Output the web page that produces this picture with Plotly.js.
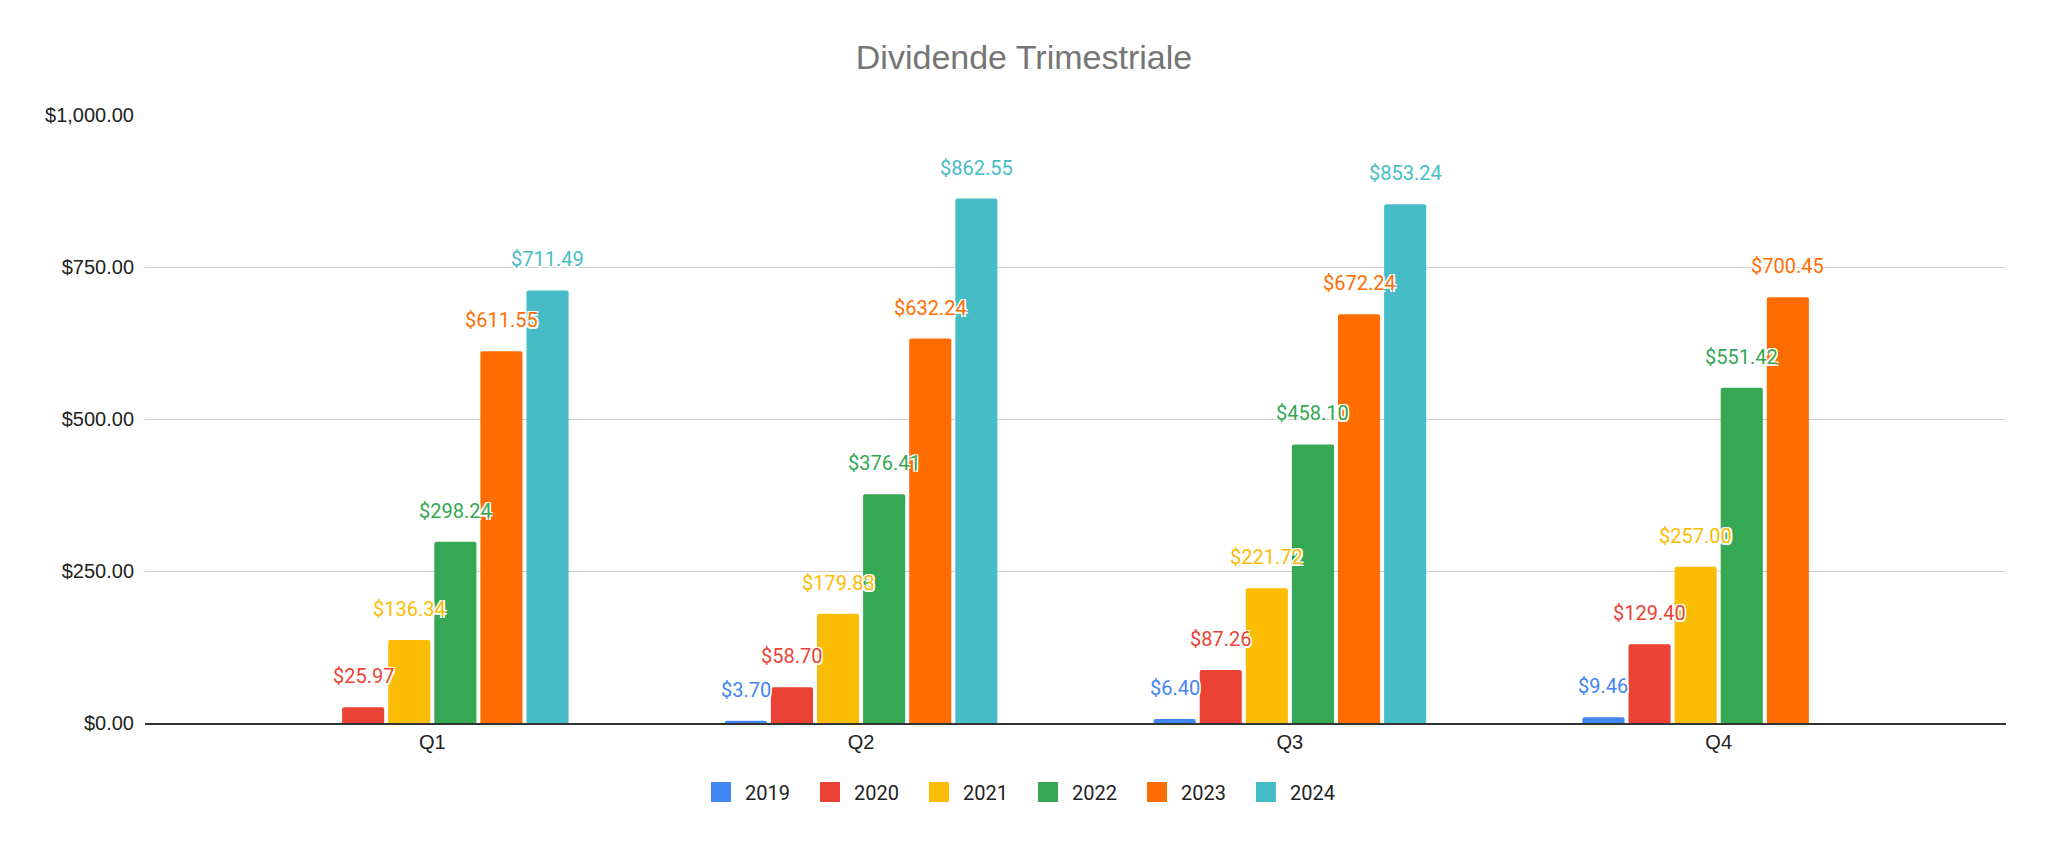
<!DOCTYPE html>
<html>
<head>
<meta charset="utf-8">
<script src="https://cdn.plot.ly/plotly-3.0.1.min.js"></script>
<style>
    html, body { margin: 0; padding: 0; background: #ffffff; }
    #dividendChart { width: 2048px; height: 845px; }
</style>
</head>
<body>
<div id="dividendChart"></div>
<script>
"use strict";

var quarters = ["Q1", "Q2", "Q3", "Q4"];
var years = ["2019", "2020", "2021", "2022", "2023", "2024"];

var values2019 = [null, 3.70, 6.40, 9.46];
var values2020 = [25.97, 58.70, 87.26, 129.40];
var values2021 = [136.34, 179.83, 221.72, 257.00];
var values2022 = [298.24, 376.41, 458.10, 551.42];
var values2023 = [611.55, 632.24, 672.24, 700.45];
var values2024 = [711.49, 862.55, 853.24, null];

var yTickValues = [0, 250, 500, 750, 1000];

var allValues = [values2019, values2020, values2021, values2022, values2023, values2024];
var colors = ["#4285F4", "#EA4335", "#FBBC04", "#34A853", "#FF6D01", "#46BDC6"];

var barGap = 0.355;
var barGroupGap = 0.087;

function formatDollar(v) {
    return "$" + v.toFixed(2).replace(/\B(?=(\d{3})+(?!\d))/g, ",");
}

/**
 * Draws the grouped bars, one trace per year, with the value labels floating above them
 */
function drawDividends() {
    var data = [];
    var legendEntries = [];
    var annotations = [];
    var slot = (1 - barGap) / years.length;   // width of one bar slot inside a quarter

    years.forEach(function(year, i) {
        data.push({
            type: "bar",
            name: year,
            x: quarters,
            y: allValues[i],
            marker: {color: colors[i], cornerradius: 2},
            showlegend: false,
            hoverinfo: "none"
        });

        // empty scatter traces only to get bigger square swatches in the legend
        legendEntries.push({
            type: "scatter",
            mode: "markers",
            name: year,
            x: [quarters[0]],
            y: [null],
            marker: {symbol: "square", size: 16, color: colors[i], line: {color: colors[i], width: 4}},
            hoverinfo: "none"
        });

        var offset = -(1 - barGap) / 2 + slot * (i + 0.5);
        allValues[i].forEach(function(v, q) {
            if (v === null) {
                return;
            }
            annotations.push({
                x: q + offset,
                y: v,
                xref: "x",
                yref: "y",
                text: formatDollar(v),
                showarrow: false,
                yanchor: "middle",
                yshift: 31,
                font: {
                    family: "Roboto",
                    size: 20,
                    color: colors[i],
                    shadow: "-1.5px -1.5px 0 #fff, 1.5px -1.5px 0 #fff, -1.5px 1.5px 0 #fff, 1.5px 1.5px 0 #fff"
                }
            });
        });
    });

    var layout = {
        width: 2048,
        height: 845,
        paper_bgcolor: "#ffffff",
        plot_bgcolor: "#ffffff",
        margin: {l: 145, r: 42, t: 115, b: 122},
        barmode: "group",
        bargap: barGap,
        bargroupgap: barGroupGap,
        title: {
            text: "Dividende Trimestriale",
            font: {family: "Liberation Sans", size: 34, color: "#757575"},
            x: 0.5,
            xref: "container",
            xanchor: "center",
            y: 1 - 57 / 845,
            yref: "container",
            yanchor: "middle"
        },
        xaxis: {
            type: "category",
            range: [-0.67, 3.67],
            showgrid: false,
            showline: true,
            linecolor: "#333333",
            linewidth: 2,
            ticks: "",
            tickfont: {family: "Liberation Sans", size: 20, color: "#222222"},
            ticklabelstandoff: 0,
            fixedrange: true
        },
        yaxis: {
            range: [0, 1000],
            tickvals: yTickValues,
            tickformat: "$,.2f",
            showgrid: true,
            gridcolor: "#cccccc",
            gridwidth: 1,
            zeroline: false,
            showline: false,
            ticks: "",
            ticklabelstandoff: 10,
            tickfont: {family: "Liberation Sans", size: 20, color: "#222222"},
            fixedrange: true
        },
        showlegend: true,
        legend: {
            orientation: "h",
            xref: "container",
            x: 0.5,
            xanchor: "center",
            yref: "container",
            y: 1 - 792 / 845,
            yanchor: "middle",
            itemwidth: 38,
            entrywidth: 56,
            entrywidthmode: "pixels",
            font: {family: "Roboto", size: 20, color: "#222222"},
            traceorder: "normal"
        },
        annotations: annotations
    };

    Plotly.newPlot("dividendChart", data.concat(legendEntries), layout, {staticPlot: true, displayModeBar: false});
}

drawDividends();
</script>
</body>
</html>
